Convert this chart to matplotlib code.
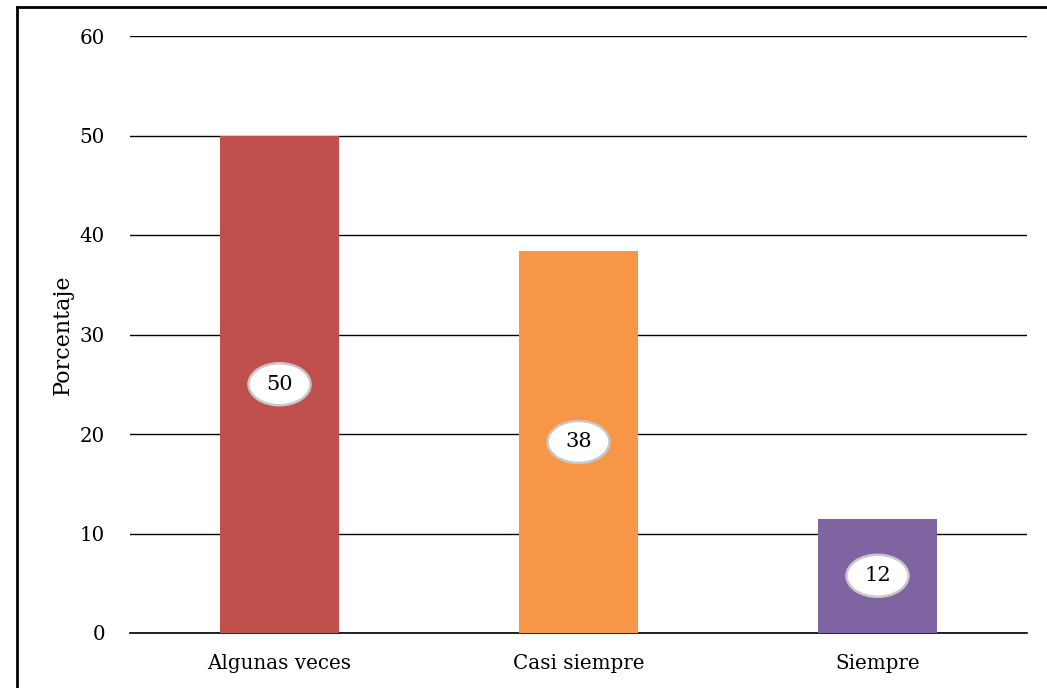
import matplotlib.pyplot as plt
from matplotlib.patches import Ellipse
from matplotlib.lines import Line2D

categories = ['Algunas veces', 'Casi siempre', 'Siempre']
values = [50, 38.4, 11.5]
labels = ['50', '38', '12']
colors = ['#C0504D', '#F79646', '#8064A2']

plt.rcParams['font.family'] = ['DejaVu Serif']

fig = plt.figure(figsize=(10.47, 6.88), dpi=100)
ax = fig.add_axes([130 / 1047, 1 - 633 / 688, 897 / 1047, 597 / 688])

x = range(len(categories))
ax.bar(x, values, width=0.4, color=colors, zorder=3)
ax.set_xlim(-0.5, 2.5)
ax.set_ylim(0, 60)
ax.set_yticks(range(0, 61, 10))
ax.yaxis.grid(True, color='black', linewidth=1, zorder=0)
ax.set_xticks(list(x))
ax.set_xticklabels(categories, fontsize=14.3)
ax.tick_params(axis='y', labelsize=14.3, length=0, pad=18)
ax.tick_params(axis='x', length=0, pad=15)
for s in ['top', 'right', 'left']:
    ax.spines[s].set_visible(False)
ax.spines['bottom'].set_linewidth(1.2)
ax.set_ylabel('Porcentaje', fontsize=16, labelpad=4)

# value labels in ellipses at half bar height
for i, (v, lab) in enumerate(zip(values, labels)):
    y = v / 2
    e = Ellipse((i, y), width=62 / 299, height=42 / 9.95, facecolor='white',
                edgecolor='#C8C8C8', linewidth=1.8, zorder=4)
    ax.add_patch(e)
    ax.text(i, y, lab, ha='center', va='center', fontsize=15, zorder=5)

# outer frame (left and top edges)
fig.add_artist(Line2D([17 / 1047, 17 / 1047], [0, 1 - 7 / 688], color='black', linewidth=2,
                      transform=fig.transFigure))
fig.add_artist(Line2D([17 / 1047, 1], [1 - 7 / 688, 1 - 7 / 688], color='black', linewidth=2,
                      transform=fig.transFigure))

fig.savefig('out.png', dpi=100)
